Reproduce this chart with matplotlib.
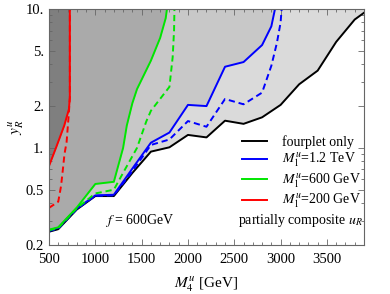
import matplotlib
matplotlib.use("Agg")
import matplotlib.pyplot as plt
from matplotlib.lines import Line2D
from matplotlib.ticker import FixedLocator, MultipleLocator, NullFormatter

plt.rcParams['font.family'] = ['Liberation Serif', 'DejaVu Serif']
plt.rcParams['mathtext.fontset'] = 'stix'

# fourplet only (black)
m4_black = [500, 600, 800, 1000, 1200, 1400, 1600, 1800, 2000, 2200, 2400, 2600,
            2800, 3000, 3200, 3400, 3600, 3800, 4000]
y_black = [0.249, 0.26, 0.36, 0.45, 0.45, 0.66, 0.94, 1.01, 1.24, 1.19, 1.57, 1.49,
           1.66, 2.04, 2.87, 3.6, 5.8, 8.4, 10.5]

# M1 = 1.2 TeV (blue)
m4_blue = [500, 600, 800, 1000, 1200, 1400, 1600, 1800, 2000, 2200, 2400, 2600,
           2800, 2900, 2950]
y_blue = [0.255, 0.266, 0.366, 0.455, 0.46, 0.71, 1.09, 1.29, 2.04, 2.0, 3.84, 4.15,
          5.5, 7.5, 10.8]
m4_blue_d = [500, 600, 800, 1000, 1200, 1400, 1600, 1800, 2000, 2200, 2400, 2600,
             2800, 2900, 2960, 3000, 3015]
y_blue_d = [0.252, 0.262, 0.363, 0.452, 0.455, 0.68, 1.05, 1.15, 1.56, 1.42, 2.25, 2.06,
            2.5, 3.9, 5.7, 8.0, 10.8]

# M1 = 600 GeV (green)
m4_green = [500, 600, 800, 1000, 1200, 1300, 1340, 1400, 1450, 1600, 1700, 1760, 1780]
y_green = [0.258, 0.268, 0.372, 0.55, 0.57, 1.0, 1.45, 2.1, 2.65, 4.25, 6.2, 8.6, 10.8]
m4_green_d = [500, 600, 800, 1000, 1200, 1310, 1450, 1550, 1600, 1800, 1835, 1850, 1855]
y_green_d = [0.255, 0.265, 0.368, 0.47, 0.5, 0.68, 1.0, 1.55, 1.85, 2.75, 4.5, 7.0, 10.8]

# M1 = 200 GeV (red)
m4_red = [500, 580, 665, 715, 725, 725]
y_red = [0.74, 1.02, 1.45, 1.9, 2.3, 10.8]
m4_red_d = [500, 600, 630, 650, 667, 690, 715, 725, 725]
y_red_d = [0.37, 0.41, 0.53, 0.7, 0.9, 1.1, 1.8, 2.3, 10.8]

legend_labels = ["fourplet only", "$M_1^u$=1.2 TeV", "$M_1^u$=600 GeV", "$M_1^u$=200 GeV"]

fig = plt.figure(figsize=(3.9, 2.94), dpi=100)
ax = fig.add_axes([0.1256, 0.1667, 0.8077, 0.8027])

top = 20
ax.fill_between(m4_black, y_black, top, color='#dadada', lw=0)
ax.fill_between(m4_blue, y_blue, top, color='#c8c8c8', lw=0)
ax.fill_between(m4_green, y_green, top, color='#aaaaaa', lw=0)
ax.fill_between(m4_red, y_red, top, color='#7f7f7f', lw=0)

lw = 1.4
dash = (3.2, 2.0)
ax.plot(m4_black, y_black, color='black', lw=lw)
ax.plot(m4_blue_d, y_blue_d, color='#0000ff', lw=lw, dashes=dash)
ax.plot(m4_blue, y_blue, color='#0000ff', lw=lw)
ax.plot(m4_green_d, y_green_d, color='#00e600', lw=lw, dashes=dash)
ax.plot(m4_green, y_green, color='#00e600', lw=lw)
ax.plot(m4_red_d, y_red_d, color='#ff0000', lw=lw, dashes=dash)
ax.plot(m4_red, y_red, color='#ff0000', lw=lw)

ax.set_xlim(500, 3900)
ax.set_yscale('log')
ax.set_ylim(0.2, 10)

ax.yaxis.set_major_locator(FixedLocator([0.2, 0.5, 1, 2, 5, 10]))
ax.set_yticklabels(["0.2", "0.5", "1.", "2.", "5.", "10."])
ax.yaxis.set_minor_locator(FixedLocator([0.3, 0.4, 0.6, 0.7, 0.8, 0.9, 3, 4, 6, 7, 8, 9]))
ax.yaxis.set_minor_formatter(NullFormatter())
ax.xaxis.set_major_locator(MultipleLocator(500))
ax.xaxis.set_minor_locator(MultipleLocator(100))

for s in ax.spines.values():
    s.set_color('#666666')
    s.set_linewidth(0.8)
ax.tick_params(which='both', direction='in', top=True, right=True, colors='#666666',
               labelcolor='black', labelsize=10.5, width=0.6)
ax.tick_params(which='major', length=4)
ax.tick_params(which='minor', length=2)
ax.tick_params(axis='x', which='major', pad=6)

ax.set_xlabel("$M_4^u$ [GeV]", fontsize=11, labelpad=6)
ax.set_ylabel("$y_R^u$", fontsize=11, labelpad=0)

handles = [Line2D([], [], color=c, lw=lw) for c in ['black', '#0000ff', '#00e600', '#ff0000']]
ax.legend(handles, legend_labels, loc='upper right', bbox_to_anchor=(1.018, 0.50),
          frameon=False, fontsize=10, handlelength=1.8, handletextpad=1.1,
          labelspacing=0.12, borderaxespad=0.2)

ax.text(0.995, 0.105, "partially composite $u_R$", ha='right', va='center',
        fontsize=10, transform=ax.transAxes)
ax.text(0.287, 0.105, "$f$ = 600GeV", ha='center', va='center', fontsize=10,
        transform=ax.transAxes)

fig.savefig("out.png", dpi=100)
